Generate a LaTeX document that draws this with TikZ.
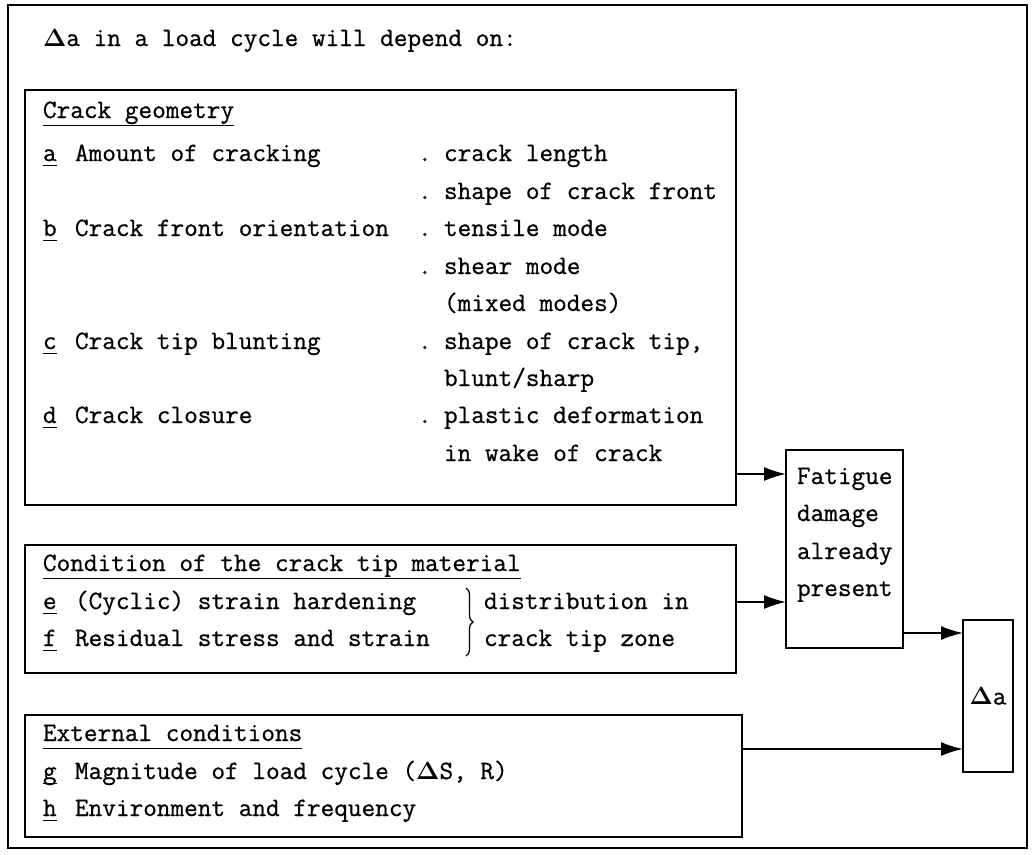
\documentclass[tikz,border=0pt]{standalone}
\usepackage{fontspec}
\setmainfont{Latin Modern Mono}[FakeBold=0.7]
\usetikzlibrary{arrows.meta,decorations.pathreplacing}
\newcommand{\ulx}[2][6pt]{\setbox0\hbox{#2}\rlap{\rule[-#1]{\wd0}{1.4pt}}\box0}
\newcommand{\dlt}{{\boldmath$\Delta$}}
\begin{document}
\begin{tikzpicture}[x=1pt,y=-1pt,
  every node/.style={font=\fontsize{26.5}{37.5}\selectfont},
  txt/.style={anchor=base west,inner sep=0pt,outer sep=0pt},
  box/.style={draw,line width=1.8pt,inner sep=0pt,outer sep=0pt,anchor=north west},
  arr/.style={line width=1.8pt,-{Latex[length=22pt,width=14pt]}},
  brc/.style={line width=1.3pt,decorate,decoration={brace,amplitude=7pt}}]
\useasboundingbox (0,0) rectangle (1032,854);
\node[box,minimum width=1019pt,minimum height=843pt] (outer) at (8,5) {};
\node[txt] (title) at (43,46) {\dlt a in a load cycle will depend on:};
% crack geometry
\node[box,minimum width=711pt,minimum height=415pt] (crack) at (25,90) {};
\node[txt] (cgh) at (43,118) {\ulx[8pt]{Crack geometry}};
\node[txt] (la) at (43,161) {\ulx[5pt]{a}};
\node[txt] (ta) at (75,161) {Amount of cracking};
\node[txt] (da1) at (418,161) {.};
\node[txt] (ra1) at (444,161) {crack length};
\node[txt] (da2) at (418,199) {.};
\node[txt] (ra2) at (444,199) {shape of crack front};
\node[txt] (lb) at (43,236) {\ulx[5pt]{b}};
\node[txt] (tb) at (75,236) {Crack front orientation};
\node[txt] (db1) at (418,236) {.};
\node[txt] (rb1) at (444,236) {tensile mode};
\node[txt] (db2) at (418,274) {.};
\node[txt] (rb2) at (444,274) {shear mode};
\node[txt] (rb3) at (444,311) {(mixed modes)};
\node[txt] (lc) at (43,349) {\ulx[5pt]{c}};
\node[txt] (tc) at (75,349) {Crack tip blunting};
\node[txt] (dc1) at (418,349) {.};
\node[txt] (rc1) at (444,349) {shape of crack tip,};
\node[txt] (rc2) at (444,386) {blunt/sharp};
\node[txt] (ld) at (43,423) {\ulx[5pt]{d}};
\node[txt] (td) at (75,423) {Crack closure};
\node[txt] (dd1) at (418,423) {.};
\node[txt] (rd1) at (444,423) {plastic deformation};
\node[txt] (rd2) at (444,461) {in wake of crack};
% condition
\node[box,minimum width=711pt,minimum height=128pt] (cond) at (25,545) {};
\node[txt] (cdh) at (43,571) {\ulx[8pt]{Condition of the crack tip material}};
\node[txt] (le) at (43,609) {\ulx[5pt]{e}};
\node[txt] (te) at (75,609) {(Cyclic) strain hardening};
\node[txt] (lf) at (43,646) {\ulx[5pt]{f}};
\node[txt] (tf) at (75,646) {Residual stress and strain};
\coordinate (bt) at (466,588);
\coordinate (bb) at (466,656);
\draw[brc] (bt) -- (bb);
\node[txt] (re1) at (484,609) {distribution in};
\node[txt] (re2) at (484,646) {crack tip zone};
% external
\node[box,minimum width=717pt,minimum height=122pt] (ext) at (25,715) {};
\node[txt] (exh) at (43,741) {\ulx[8pt]{External conditions}};
\node[txt] (lg) at (43,779) {\ulx[5pt]{g}};
\node[txt] (tg) at (75,779) {Magnitude of load cycle (\dlt S, R)};
\node[txt] (lh) at (43,816) {\ulx[5pt]{h}};
\node[txt] (th) at (75,816) {Environment and frequency};
% fatigue
\node[box,minimum width=117pt,minimum height=198pt] (fat) at (786,450) {};
\node[txt] (f1) at (797,484) {Fatigue};
\node[txt] (f2) at (797,521) {damage};
\node[txt] (f3) at (797,559) {already};
\node[txt] (f4) at (797,596) {present};
% delta a
\node[box,minimum width=50pt,minimum height=152pt] (da) at (963,620) {};
\node[anchor=center,inner sep=0pt] (dat) at (da.center) {\dlt a};
% arrows
\coordinate (y1) at (0,474);
\coordinate (y2) at (0,602);
\coordinate (y3) at (0,633);
\coordinate (y4) at (0,749);
\draw[arr] (crack.east |- y1) -- (fat.west |- y1);
\draw[arr] (cond.east |- y2) -- (fat.west |- y2);
\draw[arr] (fat.east |- y3) -- (da.west |- y3);
\draw[arr] (ext.east |- y4) -- (da.west |- y4);
\end{tikzpicture}
\end{document}
